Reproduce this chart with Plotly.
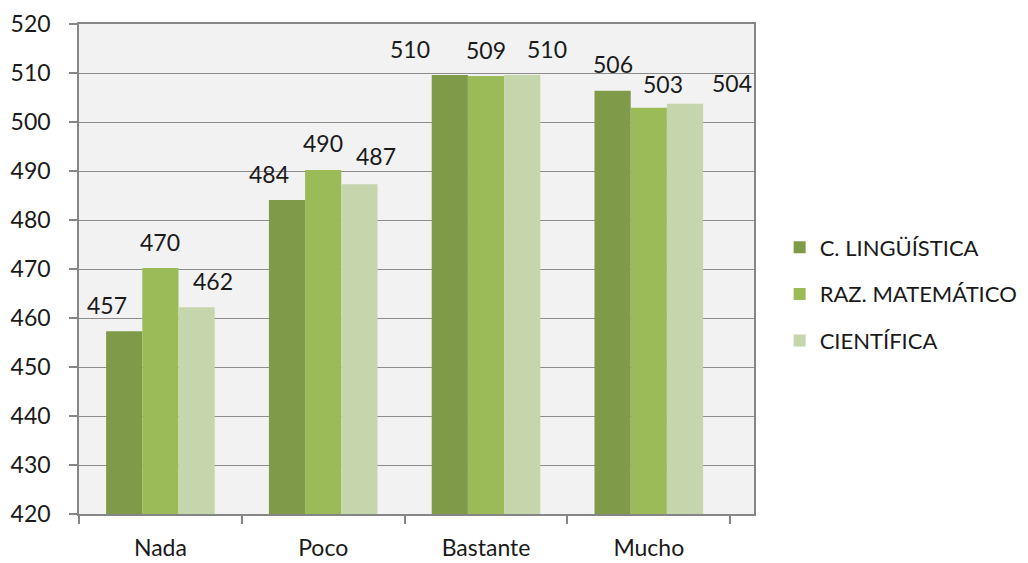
import plotly.graph_objects as go

categories = ["Nada", "Poco", "Bastante", "Mucho"]
series_names = ["C. LINGÜÍSTICA", "RAZ. MATEMÁTICO", "CIENTÍFICA"]
linguistica = [457.3, 484.1, 509.6, 506.4]
matematico = [470.2, 490.2, 509.4, 502.9]
cientifica = [462.2, 487.3, 509.6, 503.7]
series_values = [linguistica, matematico, cientifica]
colors = ["#7F9A48", "#9BBB59", "#C6D6AC"]

# manual nudges of the data labels (pixels), as in the original chart
label_dx = [[-17, -18, -40, 0], [0, 0, 0, 14], [16, 17, 25, 47]]
label_dy = [[26, 26, 26, 27], [26, 27, 26, 24], [26, 28, 26, 21]]

FONT = "Lato"
bargap = 0.333
bar_w = (1 - bargap) / 3

fig = go.Figure()
for j, (name, vals, col) in enumerate(zip(series_names, series_values, colors)):
    fig.add_trace(go.Bar(
        x=categories, y=[v - 420 for v in vals], base=420, name=name,
        marker=dict(color=col, line=dict(width=0)),
        legendgroup=name, hoverinfo="skip",
    ))
    for i, v in enumerate(vals):
        fig.add_annotation(
            x=i + (j - 1) * bar_w, y=v, xref="x", yref="y",
            text=f"{round(v)}", showarrow=False,
            xshift=label_dx[j][i], yshift=label_dy[j][i], yanchor="middle",
            font=dict(family=FONT, size=23, color="#1a1a1a"),
        )

fig.update_layout(
    width=1028, height=563,
    margin=dict(l=79, r=274, t=24, b=49, autoexpand=False),
    paper_bgcolor="white", plot_bgcolor="#F2F2F2",
    barmode="group", bargap=bargap, bargroupgap=0,
    font=dict(family=FONT, size=23, color="#1a1a1a"),
    showlegend=True,
    legend=dict(
        x=1.038, xanchor="left", y=0.449, yanchor="middle",
        font=dict(family=FONT, size=22, color="#1a1a1a"),
        traceorder="grouped", tracegroupgap=15,
        bgcolor="rgba(0,0,0,0)",
    ),
)
fig.update_yaxes(
    range=[420, 520], dtick=10, tick0=420, automargin=False,
    showgrid=True, gridcolor="#8C8C8C", gridwidth=1,
    showline=True, linecolor="#868686", linewidth=1.5, mirror=True,
    ticks="outside", ticklen=8, tickcolor="#868686", tickwidth=1.5,
    ticklabelstandoff=14, zeroline=False,
    tickfont=dict(family=FONT, size=23, color="#1a1a1a"),
)
fig.update_xaxes(
    automargin=False,
    showline=True, linecolor="#868686", linewidth=1.5, mirror=True,
    ticks="outside", ticklen=8, tickcolor="#868686", tickwidth=1.5,
    tickson="boundaries", ticklabelstandoff=13, showgrid=False,
    tickfont=dict(family=FONT, size=23, color="#1a1a1a"),
)

fig.write_html(
    "out.html",
    config={"displayModeBar": False},
    post_script="document.body.style.margin='0';document.body.style.overflow='hidden';",
)
